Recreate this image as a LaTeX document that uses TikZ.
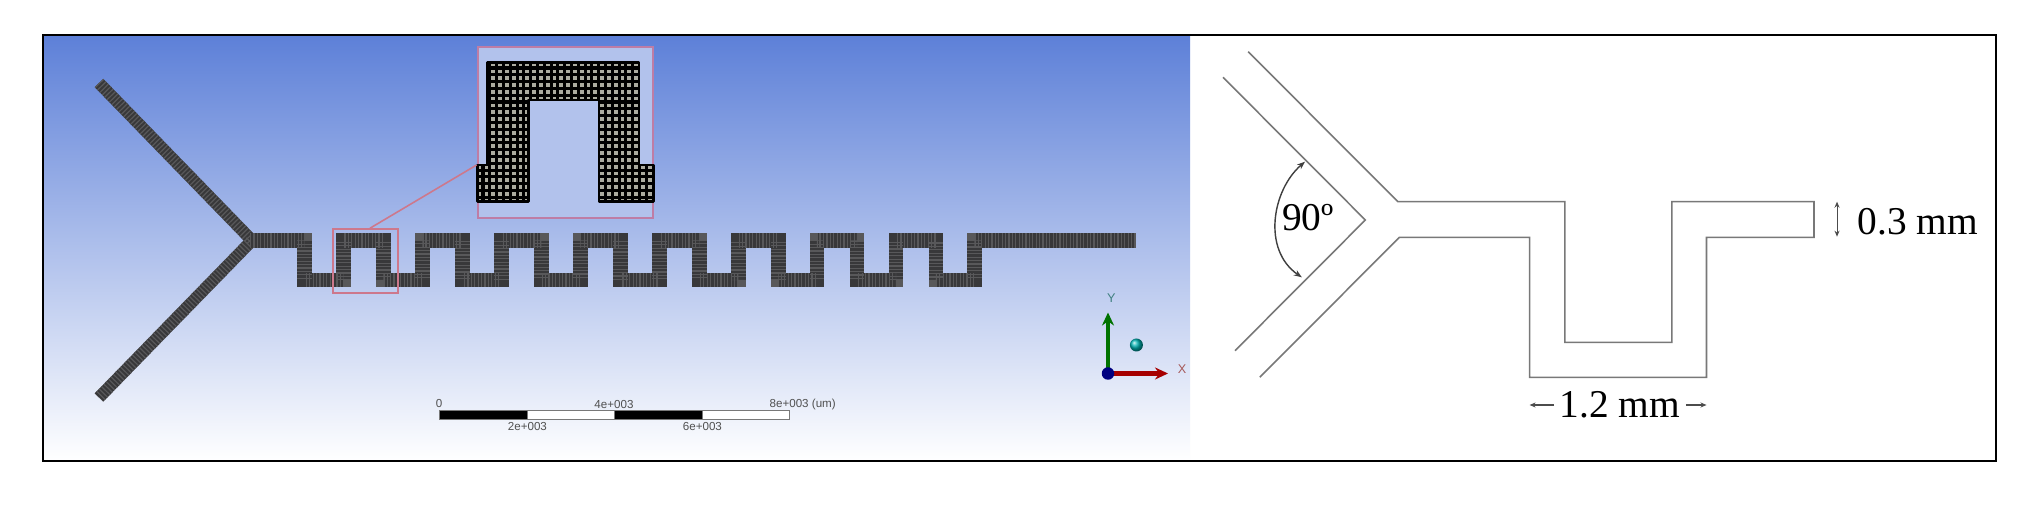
\documentclass[tikz,border=0pt]{standalone}
\usepackage{fontspec}
\setmainfont{Liberation Serif}
\newfontfamily\ansysfont{Liberation Sans}
\usetikzlibrary{arrows.meta,positioning,calc}
\definecolor{SkyTop}{RGB}{93,128,216}
\definecolor{SkyMid}{RGB}{165,183,234}
\definecolor{MeshDark}{RGB}{56,56,58}
\definecolor{MeshLight}{RGB}{88,88,90}
\definecolor{InsetFill}{RGB}{178,194,236}
\definecolor{InsetCell}{RGB}{172,172,160}
\definecolor{ZoomPink}{RGB}{190,125,165}
\definecolor{SelectPink}{RGB}{205,120,140}
\definecolor{LineGray}{RGB}{120,120,120}
\definecolor{ScaleText}{RGB}{80,80,80}
\newcommand{\insetpath}{(477.7,165) -- (487.7,165) -- (487.7,62.7) -- (639,62.7) -- (639,165)
    -- (653.3,165) -- (653.3,201.7) -- (599,201.7) -- (599,100) -- (528.3,100) -- (528.3,201.7)
    -- (477.7,201.7) -- cycle}

\begin{document}
\begin{tikzpicture}[
    x=0.01cm, y=-0.01cm,
    >=Stealth,
    meshstrip/.style={draw=MeshDark, line width=#1, miter limit=10,
                      postaction={draw=MeshLight, dash pattern=on 0.012cm off 0.022cm}},
    zoomframe/.style={rectangle, draw=ZoomPink, line width=0.6pt, inner sep=0pt},
    scalelabel/.style={font=\ansysfont\fontsize{3.3}{4}\selectfont, text=ScaleText, inner sep=0pt},
    scalecell/.style={draw=LineGray, line width=0.25pt, fill=#1},
    channel/.style={draw=LineGray, line width=0.45pt, line join=miter},
    angletip/.style={{Stealth[length=0.08cm,width=0.06cm]}-{Stealth[length=0.08cm,width=0.06cm]},
                     draw=black!75, line width=0.4pt},
    dimarrow/.style={{Stealth[length=0.06cm,width=0.05cm]}-{Stealth[length=0.06cm,width=0.05cm]},
                     draw=black!70, line width=0.3pt},
    spanarrow/.style={-{Stealth[length=0.06cm,width=0.05cm]}, draw=black!70, line width=0.3pt},
    dimlabel/.style={font=\fontsize{11.2}{13}\selectfont, inner sep=0pt},
]
\useasboundingbox (0,0) rectangle (2037,507);
\fill[white] (0,0) rectangle (2037,507);

% ── Simulation panel background ──
\shade[top color=SkyTop, middle color=SkyMid, bottom color=white, shading angle=0]
    (43,35) rectangle (1190,461);

% ── Meshed Y junction and meander ──
\path[meshstrip=0.12cm] (99,83) -- (252,240.5) -- (99,397.5);
\path[meshstrip=0.148cm] (250,240.5)
    \foreach \k [evaluate=\k as \xdown using 304.7+78.9*\k,
                 evaluate=\k as \xup using 343.6+78.9*\k] in {0,...,8} {
        -- (\xdown,240.5) -- (\xdown,280) -- (\xup,280) -- (\xup,240.5)
    } -- (1135.7,240.5);

% ── Zoomed inset ──
\node[zoomframe, fill=InsetFill, minimum width=1.756cm, minimum height=1.71cm]
    (inset) at (565.5,132.2) {};
\begin{scope}
\clip \insetpath;
\fill[InsetCell] (470,55) rectangle (660,210);
\draw[black, line width=0.031cm, step=0.068cm] (470,55) grid (660,210);
\end{scope}
\draw[black, line width=0.025cm, line join=round] \insetpath;

% ── Selection box on the meander ──
\node[zoomframe, draw=SelectPink, minimum width=0.653cm, minimum height=0.64cm]
    (selbox) at (365.3,261.3) {};
\draw[SelectPink, line width=0.45pt] ([yshift=-0.328cm]inset.west) -- ([xshift=0.047cm]selbox.north);

% ── Scale bar ──
\foreach \xa/\xb/\tone in {439/527.4/black, 527.4/614/white, 614/702.4/black, 702.4/789/white}
    \draw[scalecell=\tone] (\xa,410.7) rectangle (\xb,419);
\node[scalelabel] (tickzero) at (439,404) {0};
\node[scalelabel] (tickfour) at (614,404.5) {4e+003};
\node[scalelabel] (tickeight) at (802.7,404.5) {8e+003 (um)};
\node[scalelabel] (ticktwo) at (527.4,427) {2e+003};
\node[scalelabel] (ticksix) at (702.4,427) {6e+003};

% ── Axis triad ──
\coordinate (triad) at (1108,373.5);
\coordinate (triadY) at (1108,312.5);
\coordinate (triadX) at (1168,373.5);
\draw[-{Stealth[length=0.13cm,width=0.12cm]}, draw=green!45!black, fill=green!45!black, line width=1pt] (triad) -- (triadY);
\draw[-{Stealth[length=0.13cm,width=0.12cm]}, draw=red!65!black, fill=red!65!black, line width=1.2pt] (triad) -- (triadX);
\node[circle, fill=blue!50!black, minimum size=0.125cm, inner sep=0pt] (origin) at (triad) {};
\node[circle, shade, ball color=teal!60!cyan, minimum size=0.13cm, inner sep=0pt] (ball) at (1136.4,345) {};
\node[font=\ansysfont\fontsize{3.6}{4}\selectfont, text=teal!50!gray] (labelY) at (1111.4,298) {Y};
\node[font=\ansysfont\fontsize{3.6}{4}\selectfont, text=red!30!gray] (labelX) at (1182,369) {X};

% ── Dimensioned sketch ──
\draw[channel] (1248.2,51.7) -- (1397.8,201.7) -- (1564.8,201.7) -- (1564.8,342.3) -- (1671.9,342.3)
    -- (1671.9,201.7) -- (1814,201.7) -- (1814,237.3) -- (1706.5,237.3) -- (1706.5,377.3)
    -- (1529.6,377.3) -- (1529.6,237.3) -- (1399.4,237.3) -- (1259.8,377.3);
\draw[channel] (1223,77.3) -- (1365.3,220) -- (1235,350.7);

% ── Angle and widths ──
\coordinate (arcTop) at (1305,161.7);
\coordinate (arcBot) at (1301.8,277.3);
\draw[angletip] (arcTop) .. controls (1272,190) and (1262,250) .. (arcBot);
\node[dimlabel] (angle) at (1308,218) {90º};
\coordinate (gapTop) at (1837,201.7);
\coordinate (gapBot) at (1837,236.7);
\draw[dimarrow] (gapTop) -- (gapBot);
\node[dimlabel] (gap) at (1918,221.7) {0.3 mm};
\node[dimlabel] (span) at (1620,405) {1.2 mm};
\coordinate (spanL) at (1529.6,405);
\coordinate (spanR) at (1706.5,405);
\draw[spanarrow] ([xshift=-0.05cm]span.west) -- (spanL);
\draw[spanarrow] ([xshift=0.05cm]span.east) -- (spanR);

% ── Outer frame ──
\draw[black, line width=0.6pt] (43,35) rectangle (1996,461);
\end{tikzpicture}
\end{document}
